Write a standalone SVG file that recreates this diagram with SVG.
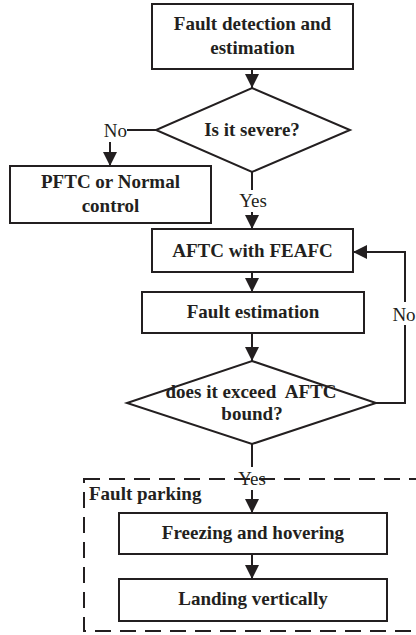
<svg xmlns="http://www.w3.org/2000/svg" width="416" height="635" viewBox="0 0 416 635">
<defs>
<style>
.box{fill:#fff;stroke:#231f20;stroke-width:2}
.t{font-family:"Liberation Serif","Times New Roman",serif;font-size:19px;font-weight:bold;fill:#231f20;text-anchor:middle}
.l{font-family:"Liberation Serif","Times New Roman",serif;font-size:19px;fill:#231f20}
.c{fill:none;stroke:#231f20;stroke-width:2}
.a{marker-end:url(#ah)}
</style>
<marker id="ah" markerUnits="userSpaceOnUse" markerWidth="14" markerHeight="14" refX="14" refY="7" orient="auto">
<path d="M0,0 L14,7 L0,14 z" fill="#231f20"/>
</marker>
</defs>
<rect width="416" height="635" fill="#fff"/>
<g id="fault-parking">
<rect x="84" y="479" width="400" height="152" fill="none" stroke="#231f20" stroke-width="2" stroke-dasharray="16 9"/>
<text class="t" x="89" y="500" style="text-anchor:start">Fault parking</text>
</g>
<g id="connectors">
<path class="c a" d="M252,69 V88"/>
<path class="c" d="M156,130 H127"/>
<text class="l" x="127" y="137" text-anchor="end">No</text>
<path class="c a" d="M110,142 V166"/>
<path class="c" d="M252,172 V190"/>
<text class="l" x="253" y="207" text-anchor="middle">Yes</text>
<path class="c a" d="M252,212 V229"/>
<path class="c a" d="M252,272 V292"/>
<path class="c a" d="M252,333 V361"/>
<path class="c" d="M376,403 H405 V325"/>
<path class="c a" d="M405,302 V252 H353"/>
<text class="l" x="404" y="321" text-anchor="middle">No</text>
<path class="c" d="M252,444 V467"/>
<text class="l" x="252" y="485" text-anchor="middle">Yes</text>
<path class="c a" d="M252,490 V513"/>
<path class="c a" d="M252,554 V579"/>
</g>
<g id="fault-detection">
<rect class="box" x="152" y="4" width="201" height="65"/>
<text class="t" x="252.5" y="30">Fault detection and</text>
<text class="t" x="252.5" y="54">estimation</text>
</g>
<g id="is-severe">
<polygon class="box" points="252,88 350,130 252,172 156,130"/>
<text class="t" x="252" y="136">Is it severe?</text>
</g>
<g id="pftc">
<rect class="box" x="10" y="166" width="201" height="57"/>
<text class="t" x="110.5" y="188">PFTC or Normal</text>
<text class="t" x="110.5" y="212">control</text>
</g>
<g id="aftc">
<rect class="box" x="152" y="229" width="201" height="43"/>
<text class="t" x="252.5" y="257">AFTC with FEAFC</text>
</g>
<g id="fault-estimation">
<rect class="box" x="142" y="292" width="222" height="41"/>
<text class="t" x="253" y="318">Fault estimation</text>
</g>
<g id="exceed-bound">
<polygon class="box" points="252,361 376,403 252,444 127,403"/>
<text class="t" x="251" y="398" xml:space="preserve">does it exceed  AFTC</text>
<text class="t" x="252" y="420">bound?</text>
</g>
<g id="freezing">
<rect class="box" x="119" y="513" width="268" height="41"/>
<text class="t" x="253" y="539">Freezing and hovering</text>
</g>
<g id="landing">
<rect class="box" x="119" y="579" width="268" height="42"/>
<text class="t" x="253" y="605">Landing vertically</text>
</g>
</svg>
